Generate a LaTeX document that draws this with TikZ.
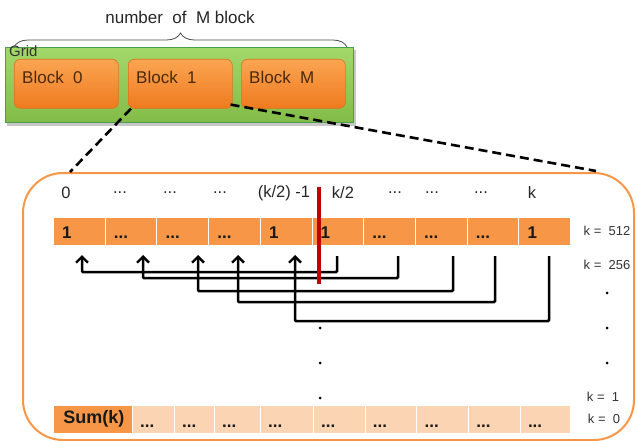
\documentclass[tikz,border=0pt]{standalone}
\usepackage{fontspec}
\setmainfont{Liberation Sans}
\usetikzlibrary{arrows.meta,decorations.pathreplacing}
\definecolor{cellorange}{HTML}{F79646}
\definecolor{celllight}{HTML}{FBD4B4}
\definecolor{gridgreen}{HTML}{92D050}
\definecolor{blocktop}{HTML}{FBA552}
\definecolor{blockbot}{HTML}{EE7A1E}
\definecolor{blockedge}{HTML}{E0701A}
\definecolor{blocktext}{HTML}{4A2A10}
\definecolor{redline}{HTML}{C00000}
\tikzset{
  cellbox/.style={draw=white, line width=0.6pt, fill=cellorange, minimum height=28pt,
    inner sep=0pt, anchor=north west},
  lightcell/.style={cellbox, fill=celllight},
  celltext/.style={anchor=base west, inner sep=0pt, text=black!90, font=\bfseries\fontsize{17}{17}\selectfont},
  toplabel/.style={inner sep=0pt, text=black!85, font=\fontsize{16.5}{16.5}\selectfont},
  sidelabel/.style={inner sep=0pt, text=black!80, font=\fontsize{13}{13}\selectfont},
  blockbox/.style={draw=blockedge, line width=0.6pt, rounded corners=6pt,
    top color=blocktop, bottom color=blockbot, minimum width=104pt, minimum height=49pt,
    anchor=north west, inner sep=0pt},
  blocklabel/.style={anchor=west, inner sep=0pt, text=blocktext, font=\fontsize{17}{17}\selectfont},
  flow/.style={line width=2.5pt, -{Straight Barb[length=6pt,width=12pt,line width=2.4pt]}},
  zoomline/.style={line width=2.6pt, dash pattern=on 9pt off 5pt},
  dotmark/.style={circle, fill=black, inner sep=0pt, minimum size=3pt},
}
\begin{document}
\begin{tikzpicture}[x=1pt,y=-1pt]
\useasboundingbox (0,0) rectangle (637,441);

% grid and its blocks
\fill[black!22] (7,50) rectangle (356,126);
\node[draw=green!45!black!70, line width=0.6pt, top color=gridgreen!85!white, bottom color=gridgreen!90!black,
  minimum width=348pt, minimum height=75pt, anchor=north west, inner sep=0pt] (grid) at (5,47) {};
\node[anchor=north west, inner sep=0pt, font=\fontsize{15}{15}\selectfont, text=black!80] (gridlbl) at (9,45) {Grid};
\node[blockbox] (b0) at (14,59) {};
\node[blockbox] (b1) at (128,59) {};
\node[blockbox] (bm) at (241,59) {};
\node[blocklabel] (b0t) at (22,77) {Block\ \ 0};
\node[blocklabel] (b1t) at (136,77) {Block\ \ 1};
\node[blocklabel] (bmt) at (249,77) {Block\ \ M};

% brace over the grid
\coordinate (braceL) at (14,47);
\coordinate (braceR) at (347,47);
\draw[black!70, line width=0.8pt, decorate, decoration={brace, amplitude=14pt}]
  (braceL) -- (braceR);
\node[toplabel, font=\fontsize{17}{17}\selectfont] (nblk) at (180,17) {number\ \ of\ \ M block};

% frame of the enlarged block
\node[draw=cellorange, line width=2pt, rounded corners=40pt, minimum width=611pt, minimum height=267pt,
  anchor=north west, inner sep=0pt] (frame) at (22,172) {};
\coordinate (zl) at (70,172);
\coordinate (zr) at (596,171);
\draw[zoomline] (b1.south west) ++(3,0) -- (zl);
\draw[zoomline] (b1.south east) ++(-2,-4) -- (zr);

% index labels
\foreach \x/\t [count=\i] in {66/0, 120/{...}, 170/{...}, 220/{...}, 284/{(k/2) -1}, 343/{k/2}, 395/{...}, 432/{...}, 481/{...}, 532/k}
  \node[toplabel] (idx\i) at (\x,193) {\t};

% top row of values
\foreach \i in {1,...,10}
  \node[cellbox, minimum width=51.7pt] (c\i) at ({53+(\i-1)*51.7},217) {};
\foreach \i/\t in {1/1, 2/{...}, 3/{...}, 4/{...}, 5/1, 6/1, 7/{...}, 8/{...}, 9/{...}, 10/1}
  \node[celltext] (ct\i) at ([xshift=9pt,yshift=-7pt]c\i.west) {\t};

% bottom row of sums
\node[cellbox, minimum width=79pt] (s0) at (53,405) {};
\node[celltext, anchor=center, font=\bfseries\fontsize{18}{18}\selectfont] (s0t) at ([xshift=1pt]s0.center) {Sum(k)};
\foreach \xa/\xb [count=\i] in {132/174, 174/214, 214/260, 260/313, 313/364.7, 364.7/416.4, 416.4/468.1, 468.1/519.8, 519.8/570}
  \node[lightcell, minimum width={(\xb-\xa)*1pt}] (s\i) at (\xa,405) {};
\foreach \i in {1,...,9}
  \node[celltext] (st\i) at ([xshift=8pt,yshift=-8pt]s\i.west) {...};

% pairwise additions
\foreach \xs/\xt/\yl [count=\i] in {337/82/272, 398/143/278, 453/198/291, 495/238/302, 549/295/321} {
  \coordinate (src\i) at (\xs,256);
  \coordinate (dst\i) at (\xt,255);
  \draw[flow, rounded corners=1pt] (src\i) |- (\xt,\yl) -- (dst\i);
}

% half-way split
\coordinate (splitT) at (319,187);
\coordinate (splitB) at (319,284);
\draw[redline, line width=3.4pt] (splitT) -- (splitB);

% continuation dots
\foreach \y [count=\i] in {328,363,398} \node[dotmark] (vd\i) at (320,\y) {};
\foreach \y [count=\i] in {293,328,363} \node[dotmark] (rd\i) at (607,\y) {};

% level labels
\node[sidelabel] (k512) at (607,231) {k = \ 512};
\node[sidelabel] (k256) at (607,265) {k = \ 256};
\node[sidelabel] (k1) at (603,397) {k = \ 1};
\node[sidelabel] (k0) at (604,419) {k = \ 0};
\end{tikzpicture}
\end{document}
